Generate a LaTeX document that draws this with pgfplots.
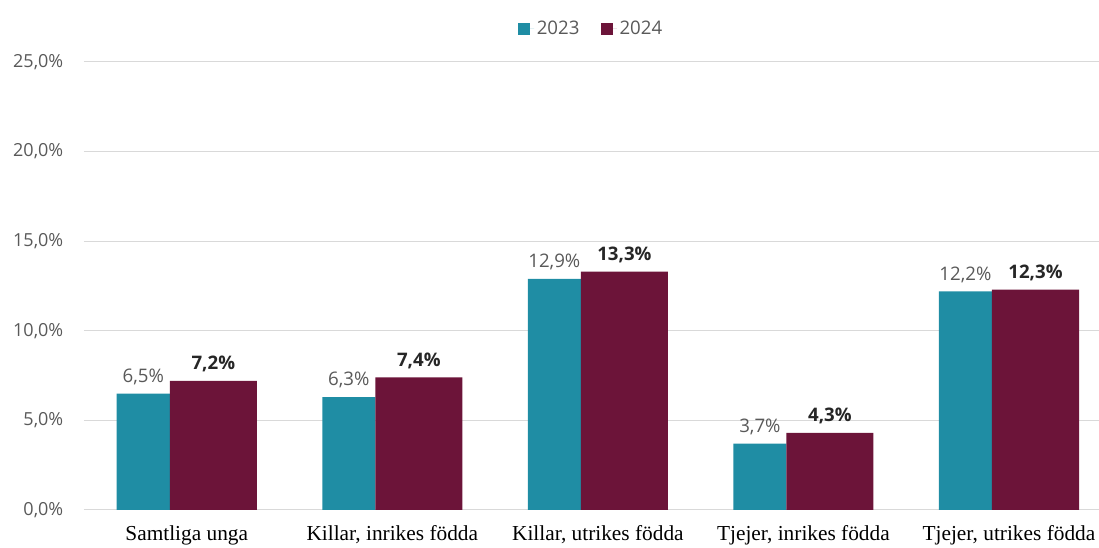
\documentclass[border=0pt]{standalone}
\usepackage{fontspec}
\setmainfont{Open Sans}
\newfontfamily\serifcat{Liberation Serif}
\usepackage{pgfplots}
\pgfplotsset{compat=1.18}
\definecolor{cteal}{HTML}{1F8DA4}
\definecolor{cmaroon}{HTML}{6C1439}
\definecolor{tgray}{HTML}{595959}
\definecolor{tdark}{HTML}{262626}
\definecolor{gridc}{HTML}{D9D9D9}
\begin{document}
\begin{tikzpicture}
\begin{axis}[
  name=ax,
  scale only axis, width=761.25pt, height=336pt,
  xmin=-0.5, xmax=4.438, ymin=0, ymax=25,
  xtick={0,1,2,3,4},
  xticklabels={Samtliga unga,{Killar, inrikes födda},{Killar, utrikes födda},{Tjejer, inrikes födda},{Tjejer, utrikes födda}},
  ytick={0,5,10,15,20,25},
  yticklabel={\pgfmathprintnumber[fixed,fixed zerofill,precision=1,use comma]{\tick}\%},
  /pgf/number format/assume math mode=true,
  axis line style={draw=none},
  major tick length=0pt,
  ymajorgrids, grid style={gridc, line width=0.75pt},
  yticklabel style={font=\fontsize{13.5}{16}\selectfont, text=tgray, xshift=-12pt},
  xticklabel style={font=\serifcat\fontsize{16}{19}\selectfont, text=black, yshift=-8pt},
  legend image code/.code={\fill[#1] (0pt,-4.5pt) rectangle (9pt,4.5pt); \path (9pt,0) -- (12pt,0);},
  legend style={at={(0.5,1)}, anchor=center, yshift=25pt, draw=none, fill=none,
    font=\fontsize{14}{17}\selectfont, text=tgray, legend columns=2,
    /tikz/every even column/.append style={column sep=14pt}},
  clip=false,
]
\addplot[ybar, bar width=39.77pt, bar shift=-32.64pt, fill=cteal, draw=none, forget plot,
  nodes near coords={\pgfmathprintnumber[fixed,fixed zerofill,precision=1,use comma]{\pgfplotspointmeta}\%},
  nodes near coords style={font=\fontsize{14}{17}\selectfont, text=tgray, anchor=south, xshift=-32.64pt, yshift=3pt}]
  coordinates {(0,6.5) (1,6.3) (2,12.9) (3,3.7) (4,12.2)};
\addplot[ybar, bar width=65.27pt, bar shift=19.89pt, fill=cmaroon, draw=none, forget plot,
  nodes near coords={\pgfmathprintnumber[fixed,fixed zerofill,precision=1,use comma]{\pgfplotspointmeta}\%},
  nodes near coords style={font=\bfseries\fontsize{14}{17}\selectfont, text=tdark, anchor=south, xshift=19.89pt, yshift=3pt}]
  coordinates {(0,7.2) (1,7.4) (2,13.3) (3,4.3) (4,12.3)};
\addlegendimage{fill=cteal, draw=none}
\addlegendentry{2023}
\addlegendimage{fill=cmaroon, draw=none}
\addlegendentry{2024}
\end{axis}
\pgfresetboundingbox
\path[use as bounding box] ([shift={(-63pt,-28.5pt)}]ax.south west) rectangle ([shift={(0pt,46.5pt)}]ax.north east);
\end{tikzpicture}
\end{document}
